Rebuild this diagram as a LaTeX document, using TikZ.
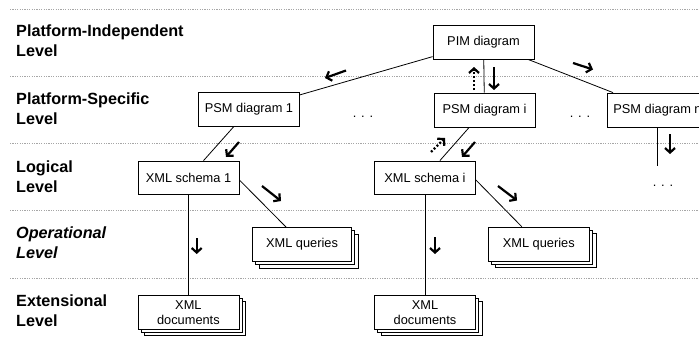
\documentclass[tikz,border=0pt]{standalone}
\usepackage{fontspec}
\setmainfont{Liberation Sans}
\usetikzlibrary{arrows.meta,shadows,calc}
\begin{document}
\begin{tikzpicture}[x=1pt,y=-1pt,
  box/.style={draw, line width=0.8pt, fill=white, minimum width=101pt, minimum height=34pt, inner sep=0pt, font=\fontsize{12.8}{15}\selectfont, align=center},
  stack/.style={box, double copy shadow={shadow xshift=3.3pt, shadow yshift=-3.3pt}},
  conn/.style={line width=0.8pt},
  lvl/.style={anchor=base west, align=left, inner sep=0pt, font=\bfseries\fontsize{16.2}{20}\selectfont},
  sep/.style={draw=black!35, line width=0.7pt, dash pattern=on 1.2pt off 1.2pt},
  flow/.style={line width=2.2pt, -{Straight Barb[length=4.5pt,width=10pt]}},
  back/.style={flow, dash pattern=on 2pt off 2pt},
  dots/.style={font=\fontsize{12.8}{15}\selectfont, inner sep=0pt}
]
\useasboundingbox (0,0) rectangle (699,343);
\begin{scope}
\clip (0,0) rectangle (699,343);
% level separators
\foreach \yy in {9,76,143.3,210.5,278.3} \draw[sep] (10,\yy) -- (699,\yy);
% level labels (anchored at the baseline of the last line)
\node[lvl] (lpi) at (16,56) {Platform-Independent\\Level};
\node[lvl] (lps) at (16,124.3) {Platform-Specific\\Level};
\node[lvl] (llo) at (16,192.7) {Logical\\Level};
\node[lvl, font=\bfseries\itshape\fontsize{16.2}{20}\selectfont] (lop) at (16,258.8) {Operational\\Level};
\node[lvl] (lex) at (16,326.7) {Extensional\\Level};
% boxes
\node[box] (pim) at (483.5,42) {PIM diagram};
\node[box] (psm1) at (249,109.5) {PSM diagram 1};
\node[box] (psmi) at (484.5,110) {PSM diagram i};
\node[box] (psmn) at (657.5,110) {PSM diagram n};
\node[box, minimum height=33pt] (xs1) at (188.5,177.5) {XML schema 1};
\node[box, minimum height=33pt] (xsi) at (425,177.5) {XML schema i};
\node[stack, minimum width=99pt] (xq1) at (302,244.5) {XML queries};
\node[stack] (xqi) at (538.8,244.2) {XML queries};
\node[stack] (xd1) at (188.4,312.2) {XML\\documents};
\node[stack] (xdi) at (425,312.2) {XML\\documents};
% dots
\node[dots] (d1) at (363,117) {. . .};
\node[dots] (d2) at (580,117) {. . .};
\node[dots] (d3) at (663,186) {. . .};
\coordinate (nend) at (657.5,166);
% connectors
\draw[conn] (pim) -- (psm1);
\draw[conn] (pim) -- (psmi);
\draw[conn] (pim) -- (psmn);
\draw[conn] (psm1) -- (xs1);
\draw[conn] (psmi) -- (xsi);
\draw[conn] (psmn.south) -- (nend);
\draw[conn] ($(xs1.east)+(0,2.5)$) -- ($(xq1.north west)+(34,0)$);
\draw[conn] ($(xsi.east)+(0,2.5)$) -- ($(xqi.north west)+(34,0)$);
\draw[conn] (xs1) -- (xd1);
\draw[conn] (xsi) -- (xdi);
% direction arrows
\draw[flow] (346,70.5) -- (325,78);
\draw[flow] (494,67) -- (494,90);
\draw[back] (474,90) -- (474,67);
\draw[flow] (573,63) -- (593,69.5);
\draw[flow] (239,142) -- (226,157);
\draw[flow] (475,142) -- (462,157);
\draw[back] (431,152) -- (445,138);
\draw[flow] (670,134) -- (670,154);
\draw[flow] (262,186) -- (281,201);
\draw[flow] (498,186) -- (517,200.5);
\draw[flow] (196.7,238) -- (196.7,254);
\draw[flow] (435,237) -- (435,254);
\end{scope}
\end{tikzpicture}
\end{document}
